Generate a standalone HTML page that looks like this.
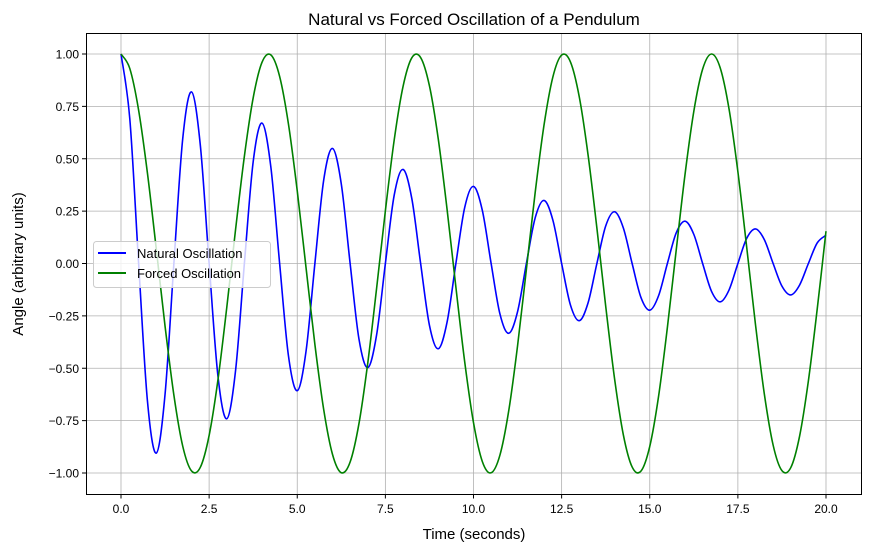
<!DOCTYPE html>
<html><head><meta charset="utf-8">
<style>body{margin:0;background:#fff}svg{display:block;font-family:"Liberation Sans","DejaVu Sans",sans-serif}</style>
</head><body>
<svg id="chart" width="870" height="552" viewBox="0 0 870 552">
<rect width="870" height="552" fill="#fff"/>
<g id="grid"></g>
<g id="lines"></g>
<rect x="86.5" y="33.5" width="775" height="461" fill="none" stroke="#000" stroke-width="1"/>
<g id="ticks"></g>
<text x="474" y="25" font-size="17" text-anchor="middle">Natural vs Forced Oscillation of a Pendulum</text>
<text x="474" y="539" font-size="15" text-anchor="middle">Time (seconds)</text>
<text x="23" y="264" font-size="15" text-anchor="middle" transform="rotate(-90 23 264)">Angle (arbitrary units)</text>
<g>
<rect x="93.5" y="241.5" width="177" height="46" rx="3" fill="#fff" fill-opacity="0.8" stroke="#ccc"/>
<line x1="98" y1="253" x2="126" y2="253" stroke="#0000ff" stroke-width="2"/>
<text x="137" y="258" font-size="13">Natural Oscillation</text>
<line x1="98" y1="273" x2="126" y2="273" stroke="#008000" stroke-width="2"/>
<text x="137" y="278" font-size="13">Forced Oscillation</text>
</g>
</svg>
<script>
const timeStep = 0.25;
const naturalValues = [1,.690,0,-.656,-.905,-.624,0,.594,.819,.565,0,-.537,-.741,-.511,0,.486,.670,.462,0,-.440,-.607,-.418,0,.398,.549,.379,0,-.360,-.497,-.342,0,.326,.449,.310,0,-.295,-.407,-.280,0,.267,.368,.254,0,-.241,-.333,-.230,0,.218,.301,.208,0,-.198,-.273,-.188,0,.179,.247,.170,0,-.162,-.223,-.154,0,.146,.202,.139,0,-.132,-.183,-.126,0,.120,.165,.114,0,-.108,-.150,-.103,0,.098,.135];
const forcedValues = [1,.9305,.7317,.4312,.0707,-.2995,-.6282,-.8711,-.9900,-.9729,-.8206,-.5557,-.2108,.1619,.5121,.7910,.9602,.9958,.8930,.6661,.3466,-.0210,-.3859,-.6968,-.9111,-.9988,-.9476,-.7647,-.4755,-.1203,.2516,.5892,.8439,.9817,.9832,.8480,.5949,.2591,-.1126,-.4688,-.7597,-.9451,-.9991,-.9143,-.7025,-.3930,-.0284,.3394,.6603,.8895,.9950,.9623,.7958,.5184,.1695,-.2031,-.5477,-.8170,-.9711,-.9911,-.8733,-.6343,-.3056,.0630,.4242,.7264,.9276,1.0,.9333,.7369,.4383,.0784,-.2921,-.6222,-.8669,-.9889,-.9746,-.8249,-.5606,-.2185,.1543];
const xTicks = [0,2.5,5,7.5,10,12.5,15,17.5,20];
const xTickLabels = ["0.0","2.5","5.0","7.5","10.0","12.5","15.0","17.5","20.0"];
const yTicks = [-1,-0.75,-0.5,-0.25,0,0.25,0.5,0.75,1];
const yTickLabels = ["\u22121.00","\u22120.75","\u22120.50","\u22120.25","0.00","0.25","0.50","0.75","1.00"];

const NS="http://www.w3.org/2000/svg";
const X=v=>121+v*35.25;
const Y=v=>263.5-v*209.5;
const grid=document.getElementById('grid'),ticks=document.getElementById('ticks'),lines=document.getElementById('lines');
function mk(tag,attrs,parent){const e=document.createElementNS(NS,tag);for(const k in attrs)e.setAttribute(k,attrs[k]);parent.appendChild(e);return e;}
xTicks.forEach((v,i)=>{
  const x=X(v);
  const g=mk('line',{x1:x,x2:x,y1:34,y2:494,stroke:'#b0b0b0','stroke-width':0.8},grid);
  
  
  const t=mk('line',{x1:x,x2:x,y1:494,y2:498.5,stroke:'#000'},ticks);
  
  
  const l=mk('text',{x:x,y:513,'font-size':12,'text-anchor':'middle'},ticks);
  l.textContent=xTickLabels[i];
  
  
});
yTicks.forEach((v,i)=>{
  const y=Y(v);
  const g=mk('line',{x1:87,x2:861,y1:y,y2:y,stroke:'#b0b0b0','stroke-width':0.8},grid);
  
  
  const t=mk('line',{x1:82,x2:86.5,y1:y,y2:y,stroke:'#000'},ticks);
  
  
  const l=mk('text',{x:79,y:y+4.5,'font-size':12,'text-anchor':'end'},ticks);
  l.textContent=yTickLabels[i];
  
  
});
function pathFor(vals){
  const p=vals.map((v,i)=>[X(i*timeStep),Y(v)]);
  let d=`M${p[0][0]},${p[0][1]}`;
  for(let i=0;i<p.length-1;i++){
    const p0=p[i-1]||p[i],p1=p[i],p2=p[i+1],p3=p[i+2]||p[i+1];
    const c1=[p1[0]+(p2[0]-p0[0])/6,p1[1]+(p2[1]-p0[1])/6];
    const c2=[p2[0]-(p3[0]-p1[0])/6,p2[1]-(p3[1]-p1[1])/6];
    d+=`C${c1[0].toFixed(2)},${c1[1].toFixed(2)} ${c2[0].toFixed(2)},${c2[1].toFixed(2)} ${p2[0].toFixed(2)},${p2[1].toFixed(2)}`;
  }
  return d;
}
const nl=mk('path',{d:pathFor(naturalValues),fill:'none',stroke:'#0000ff','stroke-width':1.6},lines);


const fl=mk('path',{d:pathFor(forcedValues),fill:'none',stroke:'#008000','stroke-width':1.6},lines);


</script>
</body></html>
